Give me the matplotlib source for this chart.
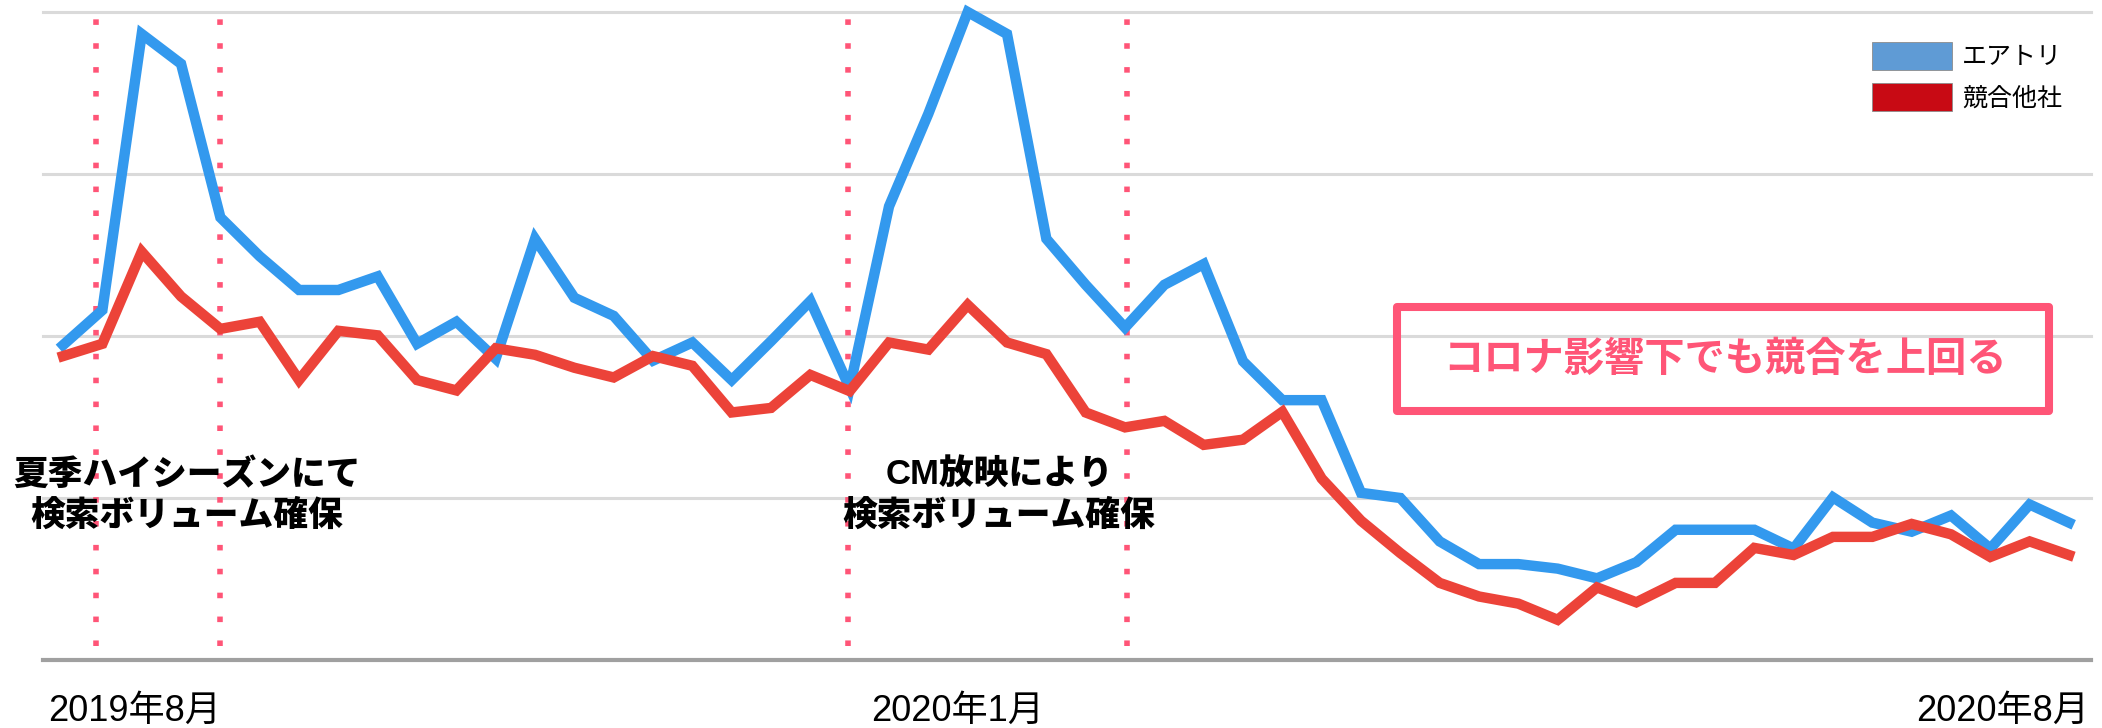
import numpy as np
import matplotlib
matplotlib.use('Agg')
import matplotlib.pyplot as plt
from matplotlib.patches import Patch, Rectangle

plt.rcParams['font.family'] = ['Liberation Sans', 'Noto Sans CJK JP', 'DejaVu Sans']

# 週次の検索ボリューム（最大=100）
airtrip = [48.6, 54.0, 96.6, 92.0, 68.3, 62.3, 57.1, 57.1, 59.2, 48.8,
           52.2, 46.5, 65.0, 55.9, 53.1, 46.2, 49.0, 43.2, 49.2, 55.4,
           42.0, 70.0, 84.3, 100.0, 96.6, 65.0, 57.9, 51.3, 57.9, 61.1,
           46.1, 40.1, 40.1, 25.8, 25.0, 18.3, 14.8, 14.8, 14.1, 12.6,
           15.1, 20.1, 20.1, 20.1, 17.2, 25.1, 21.2, 19.8, 22.3, 17.2,
           24.0, 21.2]
rivals = [46.9, 48.8, 63.0, 56.1, 51.1, 52.2, 43.2, 50.8, 50.1, 43.2,
          41.6, 48.1, 47.1, 45.1, 43.6, 46.9, 45.4, 38.2, 38.9, 44.0,
          41.5, 49.0, 47.9, 54.8, 49.0, 47.2, 38.2, 35.9, 36.9, 33.2,
          34.0, 38.3, 28.0, 21.5, 16.5, 11.9, 9.8, 8.7, 6.2, 11.2,
          8.9, 11.9, 11.9, 17.3, 16.2, 19.0, 19.0, 21.0, 19.4, 15.9,
          18.3, 16.2]
series_names = ['エアトリ', '競合他社']
tick_pos = [1.83, 22.75, 49.3]
tick_labels = ['2019年8月', '2020年1月', '2020年8月']
event_pos = [0.85, 4.0, 19.95, 27.05]
notes = ['夏季ハイシーズンにて\n検索ボリューム確保', 'CM放映により\n検索ボリューム確保']
note_pos = [3.15, 23.8]
headline = 'コロナ影響下でも競合を上回る'

PINK = '#ff5577'

fig = plt.figure(figsize=(21.02, 7.28), dpi=100)
ax = fig.add_axes([43/2102, 1 - 660/728, (2091 - 43)/2102, 648/728])

x = np.arange(len(airtrip))

for g in [25, 50, 75, 100]:
    ax.axhline(g, color='#dadada', lw=2.2, zorder=0, clip_on=False)
ax.axhline(0, color='#a0a0a0', lw=3, zorder=0, clip_on=False)

ax.vlines(event_pos, 2.2, 99.2, colors=PINK, lw=4, linestyles=(0, (1, 3.3)), zorder=1)

ax.plot(x, airtrip, color='#3399ee', lw=7.5, solid_joinstyle='miter', clip_on=False, zorder=3)
ax.plot(x, rivals, color='#ec4339', lw=7.5, solid_joinstyle='miter', clip_on=False, zorder=4)

for txt, px in zip(notes, note_pos):
    ax.text(px, 25.4, txt, ha='center', va='center', fontsize=25, fontweight='heavy',
            linespacing=1.3, color='black', zorder=5)

fig.patches.append(Rectangle((1397/2102, 1 - 411/728), 652/2102, 104/728,
                             transform=fig.transFigure, fill=False, edgecolor=PINK,
                             lw=5.8, joinstyle='round', zorder=6))
fig.text(1725/2102, 1 - 360/728, headline, ha='center', va='center', fontsize=29,
         fontweight='bold', color=PINK)

handles = [Patch(facecolor='#5f9bd5', edgecolor='#8c8c8c', lw=0.6),
           Patch(facecolor='#c80a14', edgecolor='#8c8c8c', lw=0.6)]
fig.legend(handles, series_names, loc='upper left', bbox_to_anchor=(1872/2102, 1 - 42/728),
           frameon=False, fontsize=18, handlelength=3.2, handleheight=1.32,
           handletextpad=0.4, labelspacing=0.55, borderpad=0, borderaxespad=0)

ax.set_xlim(-0.51, 51.56)
ax.set_ylim(0, 100)
ax.set_xticks(tick_pos, tick_labels, fontsize=26)
ax.tick_params(axis='x', length=0, pad=24)
ax.set_yticks([])
for s in ax.spines.values():
    s.set_visible(False)

fig.savefig('out.png', dpi=100)
